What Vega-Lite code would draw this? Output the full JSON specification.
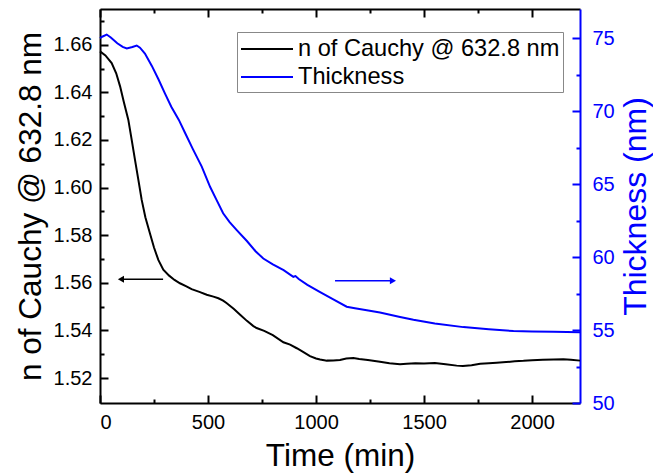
{
  "$schema": "https://vega.github.io/schema/vega-lite/v6.json",
  "width": 480,
  "height": 394,
  "autosize": "none",
  "padding": {"left": 100, "top": 9, "right": 73, "bottom": 72},
  "background": "white",
  "config": {
    "view": {"stroke": null},
    "font": "Liberation Sans",
    "axis": {
      "labelFont": "Liberation Sans",
      "labelFontSize": 20,
      "labelColor": "black",
      "titleFont": "Liberation Sans",
      "titleFontWeight": "normal",
      "titleColor": "black",
      "domainColor": "black",
      "domainWidth": 2,
      "tickColor": "black",
      "tickWidth": 2,
      "grid": false
    },
    "legend": {
      "labelFont": "Liberation Sans"
    }
  },
  "datasets": {
    "n": [
      {"t": 0, "v": 1.6572, "series": "n of Cauchy @ 632.8 nm"},
      {"t": 25, "v": 1.6555, "series": "n of Cauchy @ 632.8 nm"},
      {"t": 54, "v": 1.6523, "series": "n of Cauchy @ 632.8 nm"},
      {"t": 75, "v": 1.648, "series": "n of Cauchy @ 632.8 nm"},
      {"t": 93, "v": 1.6425, "series": "n of Cauchy @ 632.8 nm"},
      {"t": 110, "v": 1.636, "series": "n of Cauchy @ 632.8 nm"},
      {"t": 131, "v": 1.6285, "series": "n of Cauchy @ 632.8 nm"},
      {"t": 145, "v": 1.621, "series": "n of Cauchy @ 632.8 nm"},
      {"t": 162, "v": 1.6116, "series": "n of Cauchy @ 632.8 nm"},
      {"t": 178, "v": 1.603, "series": "n of Cauchy @ 632.8 nm"},
      {"t": 193, "v": 1.5948, "series": "n of Cauchy @ 632.8 nm"},
      {"t": 210, "v": 1.5875, "series": "n of Cauchy @ 632.8 nm"},
      {"t": 231, "v": 1.5808, "series": "n of Cauchy @ 632.8 nm"},
      {"t": 250, "v": 1.5748, "series": "n of Cauchy @ 632.8 nm"},
      {"t": 270, "v": 1.5696, "series": "n of Cauchy @ 632.8 nm"},
      {"t": 293, "v": 1.5655, "series": "n of Cauchy @ 632.8 nm"},
      {"t": 320, "v": 1.563, "series": "n of Cauchy @ 632.8 nm"},
      {"t": 345, "v": 1.5612, "series": "n of Cauchy @ 632.8 nm"},
      {"t": 370, "v": 1.5598, "series": "n of Cauchy @ 632.8 nm"},
      {"t": 400, "v": 1.5585, "series": "n of Cauchy @ 632.8 nm"},
      {"t": 424, "v": 1.5573, "series": "n of Cauchy @ 632.8 nm"},
      {"t": 460, "v": 1.5562, "series": "n of Cauchy @ 632.8 nm"},
      {"t": 494, "v": 1.555, "series": "n of Cauchy @ 632.8 nm"},
      {"t": 525, "v": 1.5542, "series": "n of Cauchy @ 632.8 nm"},
      {"t": 548, "v": 1.5535, "series": "n of Cauchy @ 632.8 nm"},
      {"t": 570, "v": 1.5525, "series": "n of Cauchy @ 632.8 nm"},
      {"t": 587, "v": 1.5514, "series": "n of Cauchy @ 632.8 nm"},
      {"t": 620, "v": 1.549, "series": "n of Cauchy @ 632.8 nm"},
      {"t": 650, "v": 1.5465, "series": "n of Cauchy @ 632.8 nm"},
      {"t": 680, "v": 1.544, "series": "n of Cauchy @ 632.8 nm"},
      {"t": 710, "v": 1.5418, "series": "n of Cauchy @ 632.8 nm"},
      {"t": 725, "v": 1.541, "series": "n of Cauchy @ 632.8 nm"},
      {"t": 760, "v": 1.5398, "series": "n of Cauchy @ 632.8 nm"},
      {"t": 800, "v": 1.538, "series": "n of Cauchy @ 632.8 nm"},
      {"t": 849, "v": 1.535, "series": "n of Cauchy @ 632.8 nm"},
      {"t": 880, "v": 1.534, "series": "n of Cauchy @ 632.8 nm"},
      {"t": 911, "v": 1.5325, "series": "n of Cauchy @ 632.8 nm"},
      {"t": 940, "v": 1.531, "series": "n of Cauchy @ 632.8 nm"},
      {"t": 972, "v": 1.5292, "series": "n of Cauchy @ 632.8 nm"},
      {"t": 1000, "v": 1.5282, "series": "n of Cauchy @ 632.8 nm"},
      {"t": 1019, "v": 1.5278, "series": "n of Cauchy @ 632.8 nm"},
      {"t": 1050, "v": 1.5273, "series": "n of Cauchy @ 632.8 nm"},
      {"t": 1080, "v": 1.5274, "series": "n of Cauchy @ 632.8 nm"},
      {"t": 1111, "v": 1.5276, "series": "n of Cauchy @ 632.8 nm"},
      {"t": 1140, "v": 1.5282, "series": "n of Cauchy @ 632.8 nm"},
      {"t": 1173, "v": 1.5284, "series": "n of Cauchy @ 632.8 nm"},
      {"t": 1200, "v": 1.528, "series": "n of Cauchy @ 632.8 nm"},
      {"t": 1240, "v": 1.5276, "series": "n of Cauchy @ 632.8 nm"},
      {"t": 1296, "v": 1.5268, "series": "n of Cauchy @ 632.8 nm"},
      {"t": 1340, "v": 1.5262, "series": "n of Cauchy @ 632.8 nm"},
      {"t": 1389, "v": 1.5258, "series": "n of Cauchy @ 632.8 nm"},
      {"t": 1420, "v": 1.526, "series": "n of Cauchy @ 632.8 nm"},
      {"t": 1460, "v": 1.5262, "series": "n of Cauchy @ 632.8 nm"},
      {"t": 1500, "v": 1.5261, "series": "n of Cauchy @ 632.8 nm"},
      {"t": 1550, "v": 1.5263, "series": "n of Cauchy @ 632.8 nm"},
      {"t": 1600, "v": 1.5258, "series": "n of Cauchy @ 632.8 nm"},
      {"t": 1651, "v": 1.5252, "series": "n of Cauchy @ 632.8 nm"},
      {"t": 1680, "v": 1.525, "series": "n of Cauchy @ 632.8 nm"},
      {"t": 1720, "v": 1.5254, "series": "n of Cauchy @ 632.8 nm"},
      {"t": 1760, "v": 1.526, "series": "n of Cauchy @ 632.8 nm"},
      {"t": 1800, "v": 1.5262, "series": "n of Cauchy @ 632.8 nm"},
      {"t": 1836, "v": 1.5264, "series": "n of Cauchy @ 632.8 nm"},
      {"t": 1880, "v": 1.5267, "series": "n of Cauchy @ 632.8 nm"},
      {"t": 1920, "v": 1.527, "series": "n of Cauchy @ 632.8 nm"},
      {"t": 1960, "v": 1.5272, "series": "n of Cauchy @ 632.8 nm"},
      {"t": 2000, "v": 1.5275, "series": "n of Cauchy @ 632.8 nm"},
      {"t": 2050, "v": 1.5277, "series": "n of Cauchy @ 632.8 nm"},
      {"t": 2100, "v": 1.5278, "series": "n of Cauchy @ 632.8 nm"},
      {"t": 2145, "v": 1.5279, "series": "n of Cauchy @ 632.8 nm"},
      {"t": 2180, "v": 1.5277, "series": "n of Cauchy @ 632.8 nm"},
      {"t": 2222, "v": 1.5273, "series": "n of Cauchy @ 632.8 nm"}
    ],
    "th": [
      {"t": 0, "v": 75.0, "series": "Thickness"},
      {"t": 10, "v": 75.1, "series": "Thickness"},
      {"t": 31, "v": 75.25, "series": "Thickness"},
      {"t": 50, "v": 75.05, "series": "Thickness"},
      {"t": 80, "v": 74.65, "series": "Thickness"},
      {"t": 105, "v": 74.4, "series": "Thickness"},
      {"t": 124, "v": 74.3, "series": "Thickness"},
      {"t": 150, "v": 74.4, "series": "Thickness"},
      {"t": 170, "v": 74.5, "series": "Thickness"},
      {"t": 185, "v": 74.35, "series": "Thickness"},
      {"t": 208, "v": 73.95, "series": "Thickness"},
      {"t": 240, "v": 73.1, "series": "Thickness"},
      {"t": 270, "v": 72.2, "series": "Thickness"},
      {"t": 301, "v": 71.2, "series": "Thickness"},
      {"t": 330, "v": 70.3, "series": "Thickness"},
      {"t": 365, "v": 69.4, "series": "Thickness"},
      {"t": 394, "v": 68.5, "series": "Thickness"},
      {"t": 430, "v": 67.4, "series": "Thickness"},
      {"t": 471, "v": 66.2, "series": "Thickness"},
      {"t": 510, "v": 64.8, "series": "Thickness"},
      {"t": 540, "v": 63.9, "series": "Thickness"},
      {"t": 570, "v": 63.0, "series": "Thickness"},
      {"t": 600, "v": 62.4, "series": "Thickness"},
      {"t": 633, "v": 61.85, "series": "Thickness"},
      {"t": 680, "v": 61.1, "series": "Thickness"},
      {"t": 720, "v": 60.4, "series": "Thickness"},
      {"t": 756, "v": 59.9, "series": "Thickness"},
      {"t": 800, "v": 59.5, "series": "Thickness"},
      {"t": 850, "v": 59.1, "series": "Thickness"},
      {"t": 895, "v": 58.65, "series": "Thickness"},
      {"t": 905, "v": 58.7, "series": "Thickness"},
      {"t": 920, "v": 58.5, "series": "Thickness"},
      {"t": 960, "v": 58.1, "series": "Thickness"},
      {"t": 1019, "v": 57.6, "series": "Thickness"},
      {"t": 1080, "v": 57.1, "series": "Thickness"},
      {"t": 1142, "v": 56.6, "series": "Thickness"},
      {"t": 1180, "v": 56.5, "series": "Thickness"},
      {"t": 1235, "v": 56.35, "series": "Thickness"},
      {"t": 1296, "v": 56.2, "series": "Thickness"},
      {"t": 1389, "v": 55.9, "series": "Thickness"},
      {"t": 1451, "v": 55.7, "series": "Thickness"},
      {"t": 1550, "v": 55.45, "series": "Thickness"},
      {"t": 1682, "v": 55.2, "series": "Thickness"},
      {"t": 1800, "v": 55.05, "series": "Thickness"},
      {"t": 1914, "v": 54.93, "series": "Thickness"},
      {"t": 2000, "v": 54.9, "series": "Thickness"},
      {"t": 2100, "v": 54.88, "series": "Thickness"},
      {"t": 2222, "v": 54.85, "series": "Thickness"}
    ],
    "arrowL": [{"t1": 97, "t2": 292, "v": 1.5615}],
    "arrowR": [{"t1": 1088, "t2": 1356, "v": 58.38}]
  },
  "layer": [
    {
      "data": {"name": "n"},
      "mark": {"type": "line", "strokeWidth": 2},
      "encoding": {
        "x": {
          "field": "t", "type": "quantitative",
          "scale": {"domain": [0, 2222], "nice": false, "zero": false},
          "axis": {
            "orient": "bottom",
            "title": "Time (min)",
            "titleFontSize": 31.5,
            "titlePadding": 8.5,
            "values": [0, 500, 1000, 1500, 2000],
            "format": "d",
            "domain": false,
            "tickSize": 8,
            "offset": -8,
            "labelPadding": 9
          }
        },
        "y": {
          "field": "v", "type": "quantitative",
          "scale": {"domain": [1.5095, 1.675], "nice": false, "zero": false},
          "axis": {
            "orient": "left",
            "title": "n of Cauchy @ 632.8 nm",
            "titleFontSize": 31.5,
            "titlePadding": 6,
            "values": [1.52, 1.54, 1.56, 1.58, 1.6, 1.62, 1.64, 1.66],
            "format": ".2f",
            "domain": false,
            "tickSize": 8,
            "offset": -8,
            "labelPadding": 8
          }
        },
        "color": {
          "field": "series", "type": "nominal",
          "scale": {"domain": ["n of Cauchy @ 632.8 nm", "Thickness"], "range": ["#000000", "#0000ff"]},
          "legend": {
            "title": null,
            "orient": "none",
            "legendX": 137,
            "legendY": 23,
            "direction": "vertical",
            "symbolType": "M-2,0H2",
            "symbolSize": 676,
            "symbolOffset": 13,
            "symbolStrokeWidth": 2,
            "labelFontSize": 23.6,
            "labelLimit": 0,
            "labelOffset": 17,
            "padding": 3,
            "rowPadding": 2,
            "strokeColor": "#888888",
            "fillColor": "white",
            "cornerRadius": 0
          }
        }
      }
    },
    {
      "data": {"name": "th"},
      "mark": {"type": "line", "strokeWidth": 2},
      "encoding": {
        "x": {
          "field": "t", "type": "quantitative",
          "axis": {
            "orient": "top",
            "title": null,
            "values": [0, 500, 1000, 1500, 2000],
            "labelColor": "white",
            "labelFontSize": 1,
            "domain": false,
            "tickSize": 8,
            "offset": -8
          }
        },
        "y": {
          "field": "v", "type": "quantitative",
          "scale": {"domain": [50, 77], "nice": false, "zero": false},
          "axis": {
            "orient": "right",
            "title": "Thickness (nm)",
            "titleFontSize": 32,
            "titleColor": "#0000ff",
            "titleAngle": 270,
            "titleBaseline": "top",
            "titlePadding": 6,
            "labelColor": "#0000ff",
            "tickColor": "#0000ff",
            "values": [50, 55, 60, 65, 70, 75],
            "domain": false,
            "tickSize": 8,
            "offset": -8,
            "labelPadding": 12
          }
        },
        "color": {"field": "series", "type": "nominal"}
      }
    },
    {
      "data": {"name": "arrowL"},
      "mark": {"type": "rule", "color": "black", "strokeWidth": 1.5},
      "encoding": {
        "x": {
          "field": "t1", "type": "quantitative",
          "axis": {"orient": "bottom", "title": null, "labelColor": "white", "labelFontSize": 1, "domain": false, "values": [250, 750, 1250, 1750], "tickSize": 4, "offset": -4}
        },
        "x2": {"field": "t2"},
        "y": {
          "field": "v", "type": "quantitative",
          "scale": {"domain": [1.5095, 1.675], "nice": false, "zero": false},
          "axis": {"orient": "left", "title": null, "labelColor": "white", "labelFontSize": 1, "domain": false, "values": [1.53, 1.55, 1.57, 1.59, 1.61, 1.63, 1.65, 1.67], "tickSize": 4, "offset": -4}
        }
      }
    },
    {
      "data": {"name": "arrowL"},
      "mark": {"type": "point", "shape": "triangle-left", "filled": true, "color": "black", "size": 50, "opacity": 1},
      "encoding": {
        "x": {
          "field": "t1", "type": "quantitative",
          "axis": {"orient": "bottom", "title": null, "labels": false, "ticks": false, "domain": true}
        },
        "y": {
          "field": "v", "type": "quantitative",
          "scale": {"domain": [1.5095, 1.675], "nice": false, "zero": false},
          "axis": {"orient": "left", "title": null, "labels": false, "ticks": false, "domain": true}
        }
      }
    },
    {
      "data": {"name": "arrowR"},
      "mark": {"type": "rule", "color": "#0000ff", "strokeWidth": 1.5},
      "encoding": {
        "x": {
          "field": "t1", "type": "quantitative",
          "axis": {"orient": "top", "title": null, "labelColor": "white", "labelFontSize": 1, "domain": false, "values": [250, 750, 1250, 1750], "tickSize": 4, "offset": -4}
        },
        "x2": {"field": "t2"},
        "y": {
          "field": "v", "type": "quantitative",
          "scale": {"domain": [50, 77], "nice": false, "zero": false},
          "axis": {"orient": "right", "title": null, "labelColor": "white", "labelFontSize": 1, "domain": false, "values": [52.5, 57.5, 62.5, 67.5, 72.5], "tickSize": 4, "offset": -4, "tickColor": "#0000ff"}
        }
      }
    },
    {
      "data": {"name": "arrowR"},
      "mark": {"type": "point", "shape": "triangle-right", "filled": true, "color": "#0000ff", "size": 50, "opacity": 1},
      "encoding": {
        "x": {
          "field": "t2", "type": "quantitative",
          "axis": {"orient": "top", "title": null, "labels": false, "ticks": false, "domain": true}
        },
        "y": {
          "field": "v", "type": "quantitative",
          "scale": {"domain": [50, 77], "nice": false, "zero": false},
          "axis": {"orient": "right", "title": null, "labels": false, "ticks": false, "domain": true, "domainColor": "#0000ff"}
        }
      }
    }
  ],
  "resolve": {"scale": {"y": "independent"}}
}
